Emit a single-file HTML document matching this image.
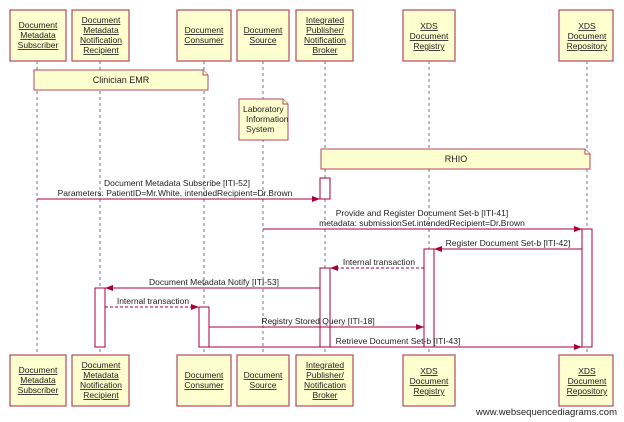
<!DOCTYPE html>
<html><head><meta charset="utf-8"><style>
html,body{margin:0;padding:0;background:#fff;}
svg{display:block;font-family:"Liberation Sans",sans-serif;}
.b{fill:#fefece;stroke:#b04a66;stroke-width:1.2;}
.t{font-size:8.5px;fill:#222;text-anchor:middle;text-decoration:underline;}
.m{font-size:8.5px;fill:#222;text-anchor:middle;}
.ll{stroke:#777;stroke-width:1;stroke-dasharray:3,3;}
.a{stroke:#a80036;stroke-width:1;fill:none;}
.d{stroke:#a80036;stroke-width:1;fill:none;stroke-dasharray:3,2;}
.act{fill:#fff;stroke:#a80036;stroke-width:1;}
.n{fill:#fefece;stroke:#b04a66;stroke-width:1;}
</style></head><body>
<svg width="624" height="422" viewBox="0 0 624 422">
<defs><marker id="ah" markerWidth="8" markerHeight="6" refX="8" refY="3" orient="auto" markerUnits="userSpaceOnUse"><path d="M0,0 L8,3 L0,6 z" fill="#a80036"/></marker></defs>
<g>
<line class="ll" x1="37" y1="61" x2="37" y2="355"/>
<line class="ll" x1="100" y1="61" x2="100" y2="355"/>
<line class="ll" x1="204" y1="61" x2="204" y2="355"/>
<line class="ll" x1="263" y1="61" x2="263" y2="355"/>
<line class="ll" x1="325" y1="61" x2="325" y2="355"/>
<line class="ll" x1="429" y1="61" x2="429" y2="355"/>
<line class="ll" x1="587" y1="61" x2="587" y2="355"/>
</g>
<!-- top boxes -->
<g id="top">
<rect class="b" x="10" y="10" width="56" height="51"/>
<text class="t" x="38" y="28">Document</text><text class="t" x="38" y="38">Metadata</text><text class="t" x="38" y="48">Subscriber</text>
<rect class="b" x="72" y="10" width="57" height="51"/>
<text class="t" x="101" y="23">Document</text><text class="t" x="101" y="33">Metadata</text><text class="t" x="101" y="43">Notification</text><text class="t" x="101" y="53">Recipient</text>
<rect class="b" x="177" y="10" width="54" height="51"/>
<text class="t" x="204" y="33">Document</text><text class="t" x="204" y="43">Consumer</text>
<rect class="b" x="237" y="10" width="52" height="51"/>
<text class="t" x="263" y="33">Document</text><text class="t" x="263" y="43">Source</text>
<rect class="b" x="296" y="10" width="57" height="51"/>
<text class="t" x="325" y="23">Integrated</text><text class="t" x="325" y="33">Publisher/</text><text class="t" x="325" y="43">Notification</text><text class="t" x="325" y="53">Broker</text>
<rect class="b" x="403" y="10" width="52" height="51"/>
<text class="t" x="429" y="29">XDS</text><text class="t" x="429" y="39">Document</text><text class="t" x="429" y="49">Registry</text>
<rect class="b" x="559" y="10" width="54" height="51"/>
<text class="t" x="587" y="29">XDS</text><text class="t" x="587" y="39">Document</text><text class="t" x="587" y="49">Repository</text>
</g>
<use href="#top" y="345"/>
<!-- notes -->
<path class="n" d="M34,70 H203 L208,75 V90 H34 Z"/><path class="n" d="M203,70 V75 H208"/>
<text class="m" x="121" y="83" style="font-size:9px">Clinician EMR</text>
<path class="n" d="M239,99 H283 L288,104 V140 H239 Z"/><path class="n" d="M283,99 V104 H288"/>
<text x="243" y="112" style="font-size:8.5px;fill:#222">Laboratory</text>
<text x="246" y="122" style="font-size:8.5px;fill:#222">Information</text>
<text x="246" y="132" style="font-size:8.5px;fill:#222">System</text>
<path class="n" d="M321,149 H585 L590,154 V169 H321 Z"/><path class="n" d="M585,149 V154 H590"/>
<text class="m" x="456" y="162" style="font-size:9px">RHIO</text>
<!-- activations -->
<rect class="act" x="320" y="178" width="10" height="21"/>
<rect class="act" x="582" y="229" width="10" height="118"/>
<rect class="act" x="424" y="249" width="10" height="98"/>
<rect class="act" x="320" y="268" width="10" height="79"/>
<rect class="act" x="95" y="288" width="10" height="59"/>
<rect class="act" x="199" y="307" width="10" height="40"/>
<!-- messages -->
<line class="a" x1="37" y1="199" x2="320" y2="199" marker-end="url(#ah)"/>
<text class="m" x="177" y="186">Document Metadata Subscribe [ITI-52]</text>
<text class="m" x="175" y="196">Parameters: PatientID=Mr.White, intendedRecipient=Dr.Brown</text>
<line class="a" x1="263" y1="229" x2="582" y2="229" marker-end="url(#ah)"/>
<text class="m" x="422" y="216">Provide and Register Document Set-b [ITI-41]</text>
<text class="m" x="422" y="226">metadata: submissionSet.intendedRecipient=Dr.Brown</text>
<line class="a" x1="582" y1="249" x2="434" y2="249" marker-end="url(#ah)"/>
<text class="m" x="508" y="246">Register Document Set-b [ITI-42]</text>
<line class="d" x1="424" y1="268" x2="330" y2="268" marker-end="url(#ah)"/>
<text class="m" x="379" y="265">Internal transaction</text>
<line class="a" x1="320" y1="288" x2="105" y2="288" marker-end="url(#ah)"/>
<text class="m" x="214" y="285">Document Metadata Notify [ITI-53]</text>
<line class="d" x1="105" y1="307" x2="199" y2="307" marker-end="url(#ah)"/>
<text class="m" x="153" y="304">Internal transaction</text>
<line class="a" x1="209" y1="327" x2="424" y2="327" marker-end="url(#ah)"/>
<text class="m" x="318" y="324">Registry Stored Query [ITI-18]</text>
<line class="a" x1="209" y1="347" x2="582" y2="347" marker-end="url(#ah)"/>
<text class="m" x="398" y="344">Retrieve Document Set-b [ITI-43]</text>
<text x="476" y="415" style="font-size:9.5px;fill:#222">www.websequencediagrams.com</text>
</svg>
</body></html>
